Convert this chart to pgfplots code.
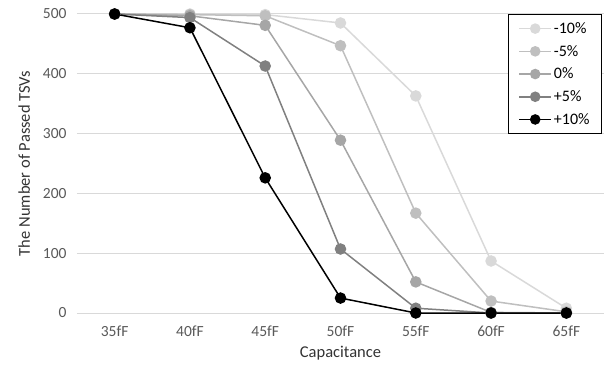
\documentclass[border=0pt]{standalone}
\usepackage{pgfplots}
\pgfplotsset{compat=1.18}
\usepackage{fontspec}
\setmainfont{Carlito}
\definecolor{gA}{HTML}{D9D9D9}
\definecolor{gB}{HTML}{BFBFBF}
\definecolor{gC}{HTML}{A6A6A6}
\definecolor{gD}{HTML}{808080}
\definecolor{txt}{HTML}{595959}
\definecolor{gridc}{HTML}{D9D9D9}
\begin{document}
\begin{tikzpicture}[x=1pt,y=1pt]
\useasboundingbox (-77,-56) rectangle (530,313);
\begin{axis}[
  at={(0,0)}, anchor=south west,
  scale only axis, width=527pt, height=299pt,
  xmin=-0.5, xmax=6.5, ymin=0, ymax=500,
  xtick={0,...,6},
  xticklabels={35fF,40fF,45fF,50fF,55fF,60fF,65fF},
  ytick={0,100,...,500},
  axis line style={draw=none},
  major tick length=0pt,
  xmajorgrids=false, ymajorgrids=true,
  major grid style={draw=gridc, line width=1pt},
  ticklabel style={font=\fontsize{15.5}{17}\selectfont, text=txt},
  yticklabel style={xshift=-7pt},
  xticklabel style={yshift=-9pt},
  /pgf/number format/assume math mode=true,
  xlabel={Capacitance}, ylabel={The Number of Passed TSVs},
  label style={font=\fontsize{16.5}{18}\selectfont, text=black!80},
  xlabel style={yshift=-3pt},
  ylabel style={yshift=6pt},
  every axis plot/.append style={line width=1.5pt, mark=*, mark size=5pt},
  legend style={at={(0.9962,1)}, anchor=north east, draw=black, line width=0.8pt,
    font=\fontsize{16}{18}\selectfont, row sep=6.3pt, inner xsep=10pt, inner ysep=6pt},
  legend image code/.code={\draw[mark repeat=2,mark phase=2,#1,mark size=4.5pt] plot coordinates {(0pt,0pt)(16pt,0pt)(32pt,0pt)};},
  legend cell align=left,
  clip=false,
]
\addplot[color=gA, mark options={fill=gA, draw=gA}] coordinates {(0,500)(1,500)(2,499)(3,485)(4,363)(5,87)(6,8)};
\addplot[color=gB, mark options={fill=gB, draw=gB}] coordinates {(0,500)(1,499)(2,497)(3,447)(4,167)(5,20)(6,2)};
\addplot[color=gC, mark options={fill=gC, draw=gC}] coordinates {(0,500)(1,497)(2,481)(3,289)(4,52)(5,1)(6,0)};
\addplot[color=gD, mark options={fill=gD, draw=gD}] coordinates {(0,500)(1,494)(2,413)(3,107)(4,8)(5,0)(6,0)};
\addplot[color=black, mark options={fill=black, draw=black}] coordinates {(0,500)(1,477)(2,226)(3,25)(4,0)(5,0)(6,0)};
\legend{-10\%,-5\%,0\%,+5\%,+10\%}
\end{axis}
\end{tikzpicture}
\end{document}
